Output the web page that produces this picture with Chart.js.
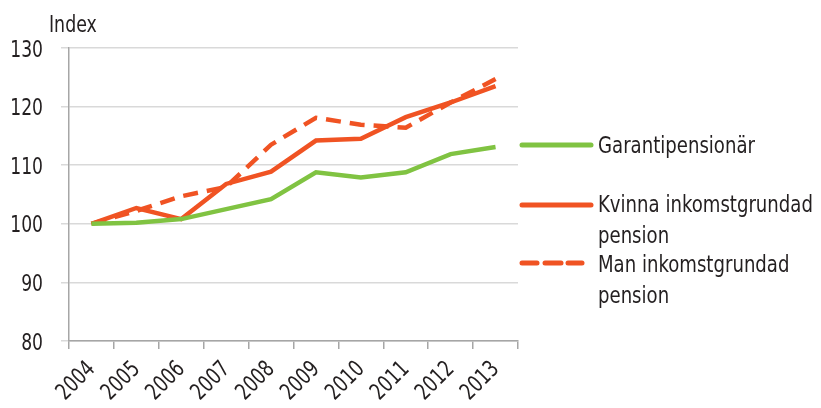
<!DOCTYPE html>
<html>
<head>
<meta charset="utf-8">
<script src="https://cdn.jsdelivr.net/npm/chart.js@4/dist/chart.umd.min.js"></script>
<style>
  html, body { margin: 0; padding: 0; background: #fff; }
  canvas { display: block; }
</style>
</head>
<body>
<canvas id="chart" width="821" height="408"></canvas>
<script>
/* ---------- data ---------- */
const years   = ['2004', '2005', '2006', '2007', '2008', '2009', '2010', '2011', '2012', '2013'];
const garanti = [100, 100.2, 100.8, 102.5, 104.2, 108.8, 107.9, 108.8, 111.9, 113.1];
const kvinna  = [100, 102.7, 100.8, 106.8, 108.9, 114.2, 114.5, 118.2, 120.7, 123.5];
const man     = [100, 102.2, 104.7, 106.3, 113.5, 118.1, 116.9, 116.4, 120.7, 124.7];
const yTicks  = [80, 90, 100, 110, 120, 130];
const yTitle  = 'Index';
const legendItems = [
  { lines: ['Garantipensionär'], color: '#80c342', dash: [] },
  { lines: ['Kvinna inkomstgrundad', 'pension'], color: '#f05323', dash: [] },
  { lines: ['Man inkomstgrundad', 'pension'], color: '#f05323', dash: [15, 9] }
];

/* ---------- style ---------- */
const FONT = "'DejaVu Sans Condensed', 'Liberation Sans Narrow', sans-serif";
const TEXT = '#231f20';

// the reference font is narrower than anything installed, so squash horizontally
function squashedText(ctx, str, x, y, angle, squash) {
  ctx.save();
  ctx.translate(x, y);
  ctx.rotate(angle || 0);
  ctx.scale(squash, 1);
  ctx.fillText(str, 0, 0);
  ctx.restore();
}

/* tick labels, axis title and legend drawn with condensed text */
const textPlugin = {
  id: 'condensedText',
  afterDraw(chart) {
    const ctx = chart.ctx;
    const xs = chart.scales.x, ys = chart.scales.y;
    ctx.save();
    ctx.fillStyle = TEXT;
    ctx.font = '23px ' + FONT;
    ctx.textBaseline = 'alphabetic';

    ctx.textAlign = 'right';
    yTicks.forEach(v => squashedText(ctx, String(v), 43, ys.getPixelForValue(v) + 8.5, 0, 0.83));
    years.forEach((y, i) => squashedText(ctx, y, xs.getPixelForValue(i) + 4.5, 370, -Math.PI / 4, 0.83));

    ctx.textAlign = 'left';
    squashedText(ctx, yTitle, 49, 32, 0, 0.84);

    // legend
    const swatchY = [145, 205, 263];
    const baseY   = [153, 212, 272];
    ctx.lineWidth = 5;
    ctx.lineCap = 'round';
    legendItems.forEach((item, k) => {
      ctx.strokeStyle = item.color;
      if (item.dash.length) {
        [[522, 537], [545, 561], [568, 582]].forEach(([a, b]) => {
          ctx.beginPath(); ctx.moveTo(a, swatchY[k]); ctx.lineTo(b, swatchY[k]); ctx.stroke();
        });
      } else {
        ctx.beginPath(); ctx.moveTo(522, swatchY[k]); ctx.lineTo(591, swatchY[k]); ctx.stroke();
      }
      item.lines.forEach((t, j) => squashedText(ctx, t, 598, baseY[k] + j * 31, 0, 0.875));
    });
    ctx.restore();
  }
};

function series(item, data) {
  return {
    label: item.lines.join(' '),
    data,
    borderColor: item.color,
    backgroundColor: item.color,
    borderWidth: 4.5,
    borderDash: item.dash,
    pointRadius: 0,
    tension: 0,
    fill: false
  };
}

new Chart(document.getElementById('chart'), {
  type: 'line',
  data: {
    labels: years,
    datasets: [
      series(legendItems[0], garanti),
      series(legendItems[1], kvinna),
      series(legendItems[2], man)
    ]
  },
  options: {
    responsive: false,
    animation: false,
    layout: { padding: { top: 48, right: 303, left: 0, bottom: 0 } },
    plugins: { legend: { display: false }, tooltip: { enabled: false } },
    scales: {
      x: {
        offset: true,
        grid: { offset: true, drawOnChartArea: false, drawTicks: true, tickLength: 8, color: '#a6a6a6', lineWidth: 1.5 },
        border: { color: '#a6a6a6', width: 1.5 },
        ticks: { display: false },
        afterFit: s => { s.height = 67; }
      },
      y: {
        min: 80, max: 130,
        afterBuildTicks: s => { s.ticks = yTicks.map(v => ({ value: v })); },
        grid: { color: '#d9d9d9', lineWidth: 1.5, tickLength: 8 },
        border: { color: '#a6a6a6', width: 1.5 },
        ticks: { display: false },
        afterFit: s => { s.width = 69; }
      }
    }
  },
  plugins: [textPlugin]
});
</script>
</body>
</html>
